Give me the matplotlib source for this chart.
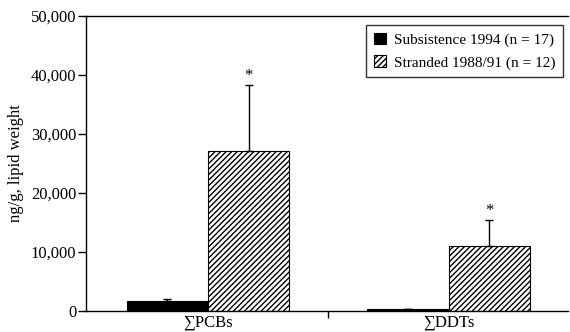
import numpy as np
import matplotlib
matplotlib.use("Agg")
import matplotlib.pyplot as plt
from matplotlib.ticker import FuncFormatter

plt.rcParams['font.family'] = ['Liberation Serif', 'DejaVu Serif']
plt.rcParams['hatch.linewidth'] = 1.0

# data
groups = ['\u2211PCBs', '\u2211DDTs']
series = ['Subsistence 1994 (n = 17)', 'Stranded 1988/91 (n = 12)']
subsistence = [1700, 400]
subsistence_err = [300, 0]
stranded = [27000, 11000]
stranded_err = [11200, 4400]
significant = [True, True]

fig = plt.figure(figsize=(5.7, 3.32), dpi=100)
ax = fig.add_axes([0.151, 0.0633, 0.845, 0.8897])

x = np.arange(len(groups))
w = 0.338
ax.bar(x - w/2, subsistence, w, color='black', edgecolor='black', lw=0.8,
       yerr=[np.zeros(len(x)), subsistence_err], error_kw=dict(ecolor='black', lw=1, capsize=3, capthick=1),
       label=series[0])
ax.bar(x + w/2, stranded, w, color='white', edgecolor='black', hatch='//////', lw=0.8,
       yerr=[np.zeros(len(x)), stranded_err], error_kw=dict(ecolor='black', lw=1, capsize=3, capthick=1),
       label=series[1])

for xi, v, e, s in zip(x, stranded, stranded_err, significant):
    if s:
        ax.annotate('*', (xi + w/2, v + e), xytext=(0, 1), textcoords='offset points',
                    ha='center', va='bottom', fontsize=12)

ax.set_xlim(-0.506, 1.494)
ax.set_ylim(0, 50000)
ax.set_yticks(np.arange(0, 50001, 10000))
ax.yaxis.set_major_formatter(FuncFormatter(lambda v, p: '{:,.0f}'.format(v)))
ax.set_xticks([0.5])
ax.set_xticklabels([''])
for xi, g in zip(x, groups):
    ax.text(xi, -0.012, g, transform=ax.get_xaxis_transform(), ha='center', va='top', fontsize=12)

ax.tick_params(axis='y', direction='out', length=6, width=1, labelsize=12, pad=1)
ax.tick_params(axis='x', direction='out', length=5, width=1)
ax.spines['right'].set_visible(False)
for s in ['left', 'bottom', 'top']:
    ax.spines[s].set_linewidth(1.0)
ax.set_ylabel('ng/g, lipid weight', fontsize=12, labelpad=5)

leg = ax.legend(loc='upper right', bbox_to_anchor=(0.99, 0.968), fontsize=11, frameon=True,
                fancybox=False, edgecolor='black', handlelength=0.8, handleheight=0.8,
                handletextpad=0.5, borderpad=0.5, labelspacing=0.55, borderaxespad=0)
leg.get_frame().set_linewidth(1.0)

fig.savefig('out.png', dpi=100)
